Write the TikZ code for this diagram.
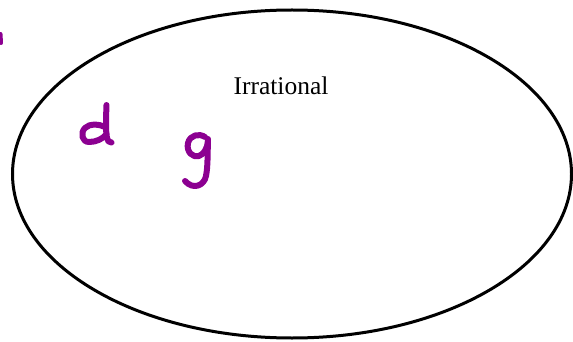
\documentclass[tikz,border=0pt]{standalone}
\usepackage{fontspec}
\setmainfont{Liberation Serif}
\definecolor{inkpurple}{RGB}{140,0,145}
\begin{document}
\begin{tikzpicture}[x=1pt,y=-1pt,
  ink/.style={draw=inkpurple,line width=6pt,line cap=round,line join=round},
  setline/.style={draw=black,line width=3pt}]
\useasboundingbox (0,0) rectangle (573,342);
\draw[setline] (292,174) ellipse [x radius=279.5, y radius=164];
\node[font=\fontsize{25.5}{28}\selectfont, anchor=base, inner sep=0pt] (lbl) at (281,95) {Irrational};
% letter d
\draw[ink] (106.5,105) .. controls (106,118) and (105.5,130) .. (107,138) .. controls (107.5,141) and (109,142.5) .. (111.5,142.5);
\draw[ink] (105,127) .. controls (99,124) and (90,123) .. (85,128) .. controls (80,133) and (82,142) .. (89,142) .. controls (96,142) and (103,139) .. (106.5,134);
% letter g
\draw[ink] (205,137) .. controls (199,133) and (190,135) .. (188,143) .. controls (186,152) and (193,158) .. (199,156) .. controls (204,154) and (207,149) .. (208,141);
\draw[ink] (208,139) .. controls (207.5,152) and (208,166) .. (206,176) .. controls (204,186) and (193,190) .. (185,181);
% partial mark at left edge
\draw[ink,line width=4pt] (0.5,34) -- (1,43);
\end{tikzpicture}
\end{document}
